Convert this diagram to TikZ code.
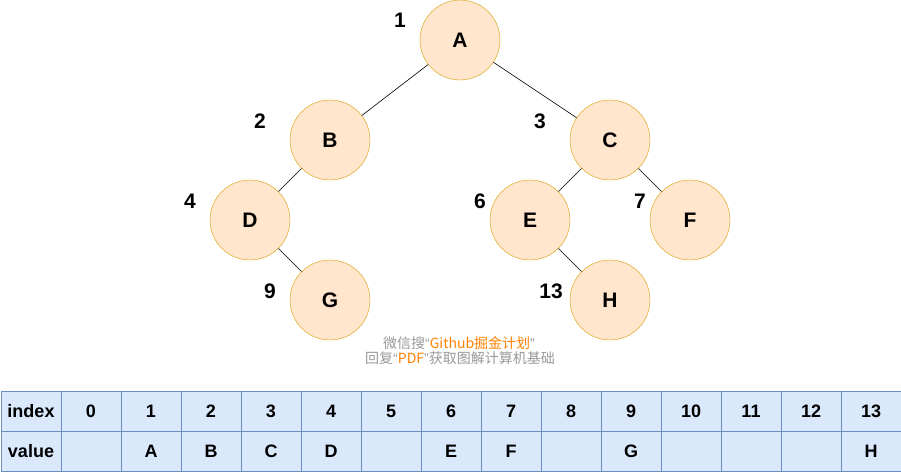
\documentclass[tikz,border=0pt]{standalone}
\usepackage{fontspec}
\setmainfont{Liberation Sans}
\newfontfamily\cjk{Noto Sans CJK SC}
\newfontfamily\lat{Liberation Sans}
\definecolor{nfill}{HTML}{FFE6CC}
\definecolor{nline}{HTML}{D79B00}
\definecolor{tfill}{HTML}{DAE8FC}
\definecolor{tline}{HTML}{6C8EBF}
\definecolor{wgray}{HTML}{999999}
\definecolor{worange}{HTML}{FF8000}
\newcommand{\myLq}{{\lat “}}
\newcommand{\myRq}{{\lat ”}}
\begin{document}
\begin{tikzpicture}[x=1pt,y=-1pt,
  tnode/.style={circle,draw=nline,fill=nfill,minimum size=80pt,inner sep=0pt,font=\fontsize{21}{21}\selectfont\bfseries},
  idx/.style={font=\fontsize{21}{21}\selectfont\bfseries,anchor=center},
  cell/.style={draw=tline,fill=tfill,minimum width=60pt,minimum height=40pt,inner sep=0pt,font=\fontsize{18}{18}\selectfont\bfseries,anchor=center},
  wm/.style={font=\cjk\fontsize{14}{14}\selectfont,text=wgray,anchor=center,inner sep=0pt},
  edge/.style={draw=black,line width=0.6pt}]
\useasboundingbox (0,0) rectangle (901,471);
\node[tnode] (A) at (460,40) {A};
\node[tnode] (B) at (330,140) {B};
\node[tnode] (C) at (610,140) {C};
\node[tnode] (D) at (250,220) {D};
\node[tnode] (E) at (530,220) {E};
\node[tnode] (F) at (690,220) {F};
\node[tnode] (G) at (330,300) {G};
\node[tnode] (H) at (610,300) {H};
\draw[edge] (A) -- (B);
\draw[edge] (A) -- (C);
\draw[edge] (B) -- (D);
\draw[edge] (D) -- (G);
\draw[edge] (C) -- (E);
\draw[edge] (C) -- (F);
\draw[edge] (E) -- (H);
\node[idx] (l1) at (400,20) {1};
\node[idx] (l2) at (260,121) {2};
\node[idx] (l3) at (540,121) {3};
\node[idx] (l4) at (190,201) {4};
\node[idx] (l6) at (480,201) {6};
\node[idx] (l7) at (640,201) {7};
\node[idx] (l9) at (270,291) {9};
\node[idx] (l13) at (551,291) {13};
\node[wm] (w1) at (459,343) {微信搜\myLq\textcolor{worange}{Github掘金计划}\myRq};
\node[wm] (w2) at (460,358) {回复\myLq\textcolor{worange}{PDF}\myRq 获取图解计算机基础};
\node[cell] (h0) at (31,411) {index};
\node[cell] (v0) at (31,451) {value};
\foreach \i/\v in {0/,1/A,2/B,3/C,4/D,5/,6/E,7/F,8/,9/G,10/,11/,12/,13/H}{
  \node[cell] (hi\i) at ({91+60*\i},411) {\i};
  \node[cell] (vi\i) at ({91+60*\i},451) {\v};
}
\end{tikzpicture}
\end{document}
